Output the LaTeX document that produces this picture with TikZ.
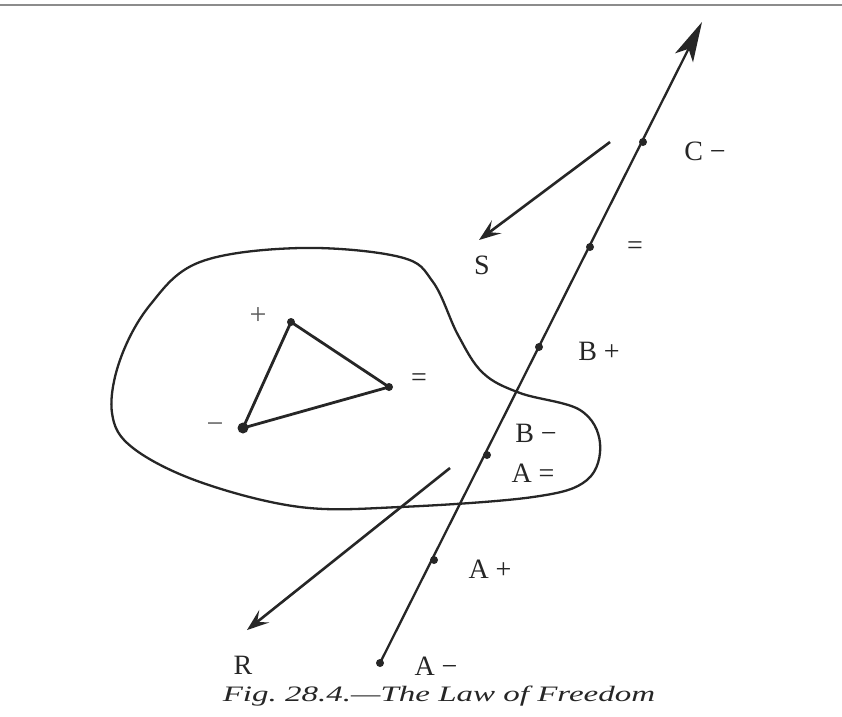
\documentclass[tikz,border=0pt]{standalone}
\usepackage{fontspec}
\setmainfont{Liberation Serif}
\usetikzlibrary{arrows.meta}
\definecolor{ink}{HTML}{262626}
\begin{document}
\begin{tikzpicture}[x=1pt,y=-1pt,
  dot/.style={circle,fill=ink,inner sep=0pt,minimum size=8pt},
  bigdot/.style={circle,fill=ink,inner sep=0pt,minimum size=11pt},
  lbl/.style={font=\fontsize{28}{28}\selectfont, text=ink, inner sep=0pt},
  thinlbl/.style={font=\fontsize{30}{30}\selectfont, text=ink!75, inner sep=0pt},
  ln/.style={line width=2.3pt, draw=ink},
  tri/.style={line width=2.8pt, draw=ink},
  bigarrow/.style={ln, -{Stealth[length=40pt,width=20pt,inset=10pt]}},
  smallarrow/.style={line width=2.6pt, draw=ink, -{Stealth[length=22pt,width=16pt,inset=9pt]}}
]
\path[use as bounding box] (0,0) rectangle (842,716);
\fill[white] (0,0) rectangle (842,716);
% top rule
\draw[line width=2.5pt, draw=black!45] (0,5) -- (842,5);

% blob
\draw[line width=2.3pt, draw=ink] plot[smooth cycle, tension=0.6] coordinates {
  (200,262) (300,248) (400,257) (433,282) (458,335) (483,373) (520,393)
  (580,410) (600,443) (587,480) (533,497) (400,507) (300,507) (200,482)
  (133,448) (112,413) (120,360) (150,305)};

% triangle
\node[dot] (tp) at (291,322) {};
\node[dot] (te) at (389,387) {};
\node[bigdot] (tm) at (243,428) {};
\draw[tri] (tp.center) -- (te.center) -- (tm.center) -- cycle;
\node[thinlbl] (tpl) at (258,316) {+};
\node[lbl] (tel) at (419,380) {=};
\node[thinlbl] (tml) at (215,428) {−};

% main line
\node[dot] (am) at (380,663) {};
\node[dot] (ap) at (434,560) {};
\node[dot] (ae) at (487,455) {};
\node[dot] (bp) at (539,347) {};
\node[dot] (eq) at (590,247) {};
\node[dot] (cm) at (643,142) {};
\coordinate (tip) at (702,22);
\draw[bigarrow] (am.center) -- (tip);

\node[lbl] (cml) at (705,151) {C −};
\node[lbl] (eql) at (635,248) {=};
\node[lbl] (bpl) at (599,351) {B +};
\node[lbl] (bml) at (536,433) {B −};
\node[lbl] (ael) at (533,473) {A =};
\node[lbl] (apl) at (490,569) {A +};
\node[lbl] (aml) at (436,666) {A −};

% S arrow
\coordinate (s0) at (610,142);
\coordinate (s1) at (479,240);
\draw[smallarrow] (s0) -- (s1);
\node[lbl] (sl) at (482,265) {S};

% R arrow
\coordinate (r0) at (450,468);
\coordinate (r1) at (247,630);
\draw[smallarrow] (r0) -- (r1);
\node[lbl] (rl) at (243,665) {R};

% caption
\node[font=\fontsize{22}{22}\selectfont\itshape, text=ink, inner sep=0pt] (cap) at (439,696) {\scalebox{1.5}[1]{Fig.\ 28.4.—The Law of Freedom}};
\end{tikzpicture}
\end{document}
